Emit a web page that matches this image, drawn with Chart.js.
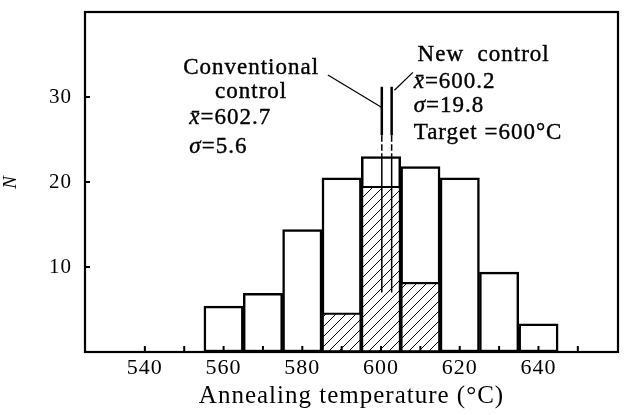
<!DOCTYPE html>
<html>
<head>
<meta charset="utf-8">
<script src="https://cdn.jsdelivr.net/npm/chart.js@4.4.0/dist/chart.umd.min.js"></script>
<style>
  html, body { margin: 0; padding: 0; background: #fff; }
  #wrap { width: 626px; height: 415px; }
</style>
</head>
<body>
<div id="wrap"><canvas id="chart" width="626" height="415"></canvas></div>
<script>
// histogram data (bin centres, 10 C bins)
const binCenters = [560, 570, 580, 590, 600, 610, 620, 630, 640];
const newControl = [5.4, 6.9, 14.4, 20.5, 23.0, 21.8, 20.5, 9.4, 3.3];
const convCenters = [590, 600, 610];
const conventional = [4.6, 19.5, 8.2];
const newMean = 600.2;
const convMean = 602.7;
const xTickLabels = [540, 560, 580, 600, 620, 640];
const xMinorTicks = [540, 550, 560, 570, 580, 590, 600, 610, 620, 630, 640, 650];
const yTickLabels = [10, 20, 30];

const SERIF = '"Liberation Serif", "DejaVu Serif", serif';

// hatch pattern for conventional control bars
function makeHatch() {
  const c = document.createElement('canvas');
  c.width = 10; c.height = 10;
  const g = c.getContext('2d');
  g.fillStyle = '#fff';
  g.fillRect(0, 0, 10, 10);
  g.strokeStyle = '#000';
  g.lineWidth = 1;
  g.beginPath();
  g.moveTo(0, 10); g.lineTo(10, 0);
  g.moveTo(-5, 5); g.lineTo(5, -5);
  g.moveTo(5, 15); g.lineTo(15, 5);
  g.stroke();
  return g.createPattern(c, 'repeat');
}

// vertical mean line: thick solid top, short dashed gap, thin through the bar
function meanLine(x) {
  return {
    type: 'line',
    data: [{x: x, y: 31.2}, {x: x, y: 25.5}, {x: x, y: 23.0}, {x: x, y: 7.0}],
    borderColor: '#000',
    borderWidth: 2,
    pointRadius: 0,
    order: 0,
    segment: {
      borderDash: ctx => ctx.p0DataIndex === 1 ? [4, 5] : undefined,
      borderWidth: ctx => ctx.p0DataIndex === 0 ? 2.5 : 1.5
    }
  };
}

function leader(x0, y0, x1, y1) {
  return {
    type: 'line',
    data: [{x: x0, y: y0}, {x: x1, y: y1}],
    borderColor: '#000',
    borderWidth: 1.2,
    pointRadius: 0,
    order: 0
  };
}

const frameAndText = {
  id: 'frameAndText',
  beforeDraw(chart) {
    chart.ctx.letterSpacing = '1px';
  },
  afterDraw(chart) {
    const {ctx, chartArea: a, scales: {x, y}} = chart;
    ctx.save();
    ctx.strokeStyle = '#000';
    ctx.lineWidth = 2.2;
    ctx.strokeRect(a.left, a.top, a.right - a.left, a.bottom - a.top);

    // inner tick marks
    ctx.lineWidth = 2;
    ctx.beginPath();
    xMinorTicks.forEach(v => {
      const px = x.getPixelForValue(v);
      ctx.moveTo(px, a.bottom);
      ctx.lineTo(px, a.bottom - 6);
    });
    yTickLabels.forEach(v => {
      const py = y.getPixelForValue(v);
      ctx.moveTo(a.left, py);
      ctx.lineTo(a.left + 5, py);
    });
    ctx.stroke();

    // annotation texts
    ctx.fillStyle = '#000';
    ctx.strokeStyle = '#000';
    ctx.lineWidth = 0.4;
    ctx.textBaseline = 'middle';
    ctx.letterSpacing = '1px';
    const norm = '23px ' + SERIF;
    const ital = 'italic 23px ' + SERIF;
    function put(parts, vx, vy, align) {
      let total = 0;
      parts.forEach(p => { ctx.font = p[1] ? ital : norm; total += ctx.measureText(p[0]).width; });
      let px = x.getPixelForValue(vx);
      if (align === 'center') px -= total / 2;
      const py = y.getPixelForValue(vy);
      ctx.textAlign = 'left';
      parts.forEach(p => {
        ctx.font = p[1] ? ital : norm;
        ctx.fillText(p[0], px, py);
        ctx.strokeText(p[0], px, py);
        px += ctx.measureText(p[0]).width;
      });
    }
    put([['Conventional']], 567, 33.4, 'center');
    put([['control']], 567, 30.6, 'center');
    put([['x\u0304', true], ['=602.7']], 551.3, 27.5);
    put([['\u03c3', true], ['=5.6']], 551.3, 24.1);
    put([['New  control']], 609.3, 34.9);
    put([['x\u0304', true], ['=600.2']], 608.3, 31.8);
    put([['\u03c3', true], ['=19.8']], 608.3, 28.9);
    put([['Target =600\u00b0C']], 608.3, 25.8);
    ctx.restore();
  }
};

new Chart(document.getElementById('chart'), {
  type: 'bar',
  data: {
    datasets: [
      meanLine(newMean),
      meanLine(convMean),
      leader(586.5, 32.6, 600.1, 28.8),
      leader(608.1, 32.9, 603.4, 30.8),
      {
        label: 'Conventional control',
        data: convCenters.map((c, i) => ({x: c, y: conventional[i]})),
        backgroundColor: makeHatch(),
        borderColor: '#000',
        borderWidth: 2.2,
        borderSkipped: false,
        barPercentage: 1,
        categoryPercentage: 1,
        grouped: false,
        order: 1
      },
      {
        label: 'New control',
        data: binCenters.map((c, i) => ({x: c, y: newControl[i]})),
        backgroundColor: '#fff',
        borderColor: '#000',
        borderWidth: 2.5,
        borderSkipped: false,
        barPercentage: 1,
        categoryPercentage: 1,
        grouped: false,
        order: 2
      }
    ]
  },
  options: {
    responsive: false,
    animation: false,
    layout: { padding: { left: 0, right: 8, top: 12, bottom: 0 } },
    plugins: { legend: { display: false }, tooltip: { enabled: false } },
    scales: {
      x: {
        type: 'linear',
        min: 530,
        max: 655,
        afterFit: s => { s.height = 63; s.paddingLeft = 0; s.paddingRight = 0; },
        grid: { display: false, drawTicks: false },
        border: { display: false },
        ticks: {
          stepSize: 10,
          autoSkip: false,
          maxRotation: 0,
          padding: 3,
          color: '#000',
          font: { family: SERIF, size: 22 },
          callback: v => xTickLabels.includes(v) ? String(v) : ''
        },
        title: {
          display: true,
          text: 'Annealing temperature (\u00b0C)',
          color: '#000',
          font: { family: SERIF, size: 25 },
          padding: { top: 0, bottom: 4 }
        }
      },
      y: {
        min: 0,
        max: 40,
        afterFit: s => { s.width = 85; s.paddingTop = 0; s.paddingBottom = 0; },
        grid: { display: false, drawTicks: false },
        border: { display: false },
        ticks: {
          stepSize: 10,
          padding: 13,
          color: '#000',
          font: { family: SERIF, size: 21 },
          callback: v => yTickLabels.includes(v) ? String(v) : ''
        },
        title: {
          display: true,
          text: 'N',
          color: '#000',
          font: { family: SERIF, size: 19, style: 'italic' },
          padding: { top: 0, bottom: 4 }
        }
      }
    }
  },
  plugins: [frameAndText]
});
</script>
</body>
</html>
